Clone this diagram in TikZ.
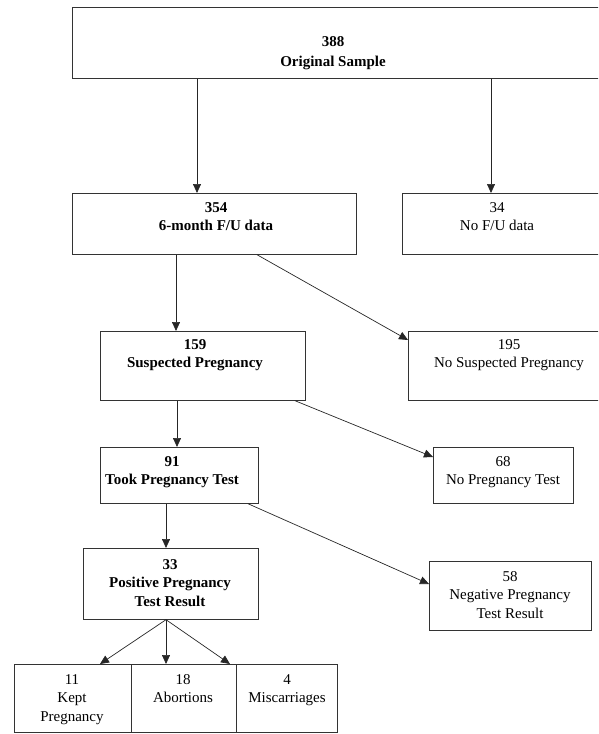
\documentclass[tikz,border=0pt]{standalone}
\usepackage{fontspec}
\setmainfont{Liberation Serif}
\usetikzlibrary{calc,arrows.meta}
\begin{document}
\begin{tikzpicture}[x=1pt,y=-1pt,
  box/.style={draw=black!80, line width=0.7pt, inner sep=0pt, anchor=north west},
  txt/.style={inner sep=0pt, anchor=north, align=center, font=\fontsize{15}{18.5}\selectfont},
  btxt/.style={txt, font=\fontsize{15}{18.5}\selectfont\bfseries},
  arr/.style={draw=black!85, line width=0.7pt, -{Triangle[length=9pt,width=8pt]}}]
\useasboundingbox (0,0) rectangle (598,734);
\clip (0,0) rectangle (598,734);
% boxes
\node[box, minimum width=538pt, minimum height=71pt] (T) at (72,7) {};
\node[box, minimum width=284pt, minimum height=61pt] (b354) at (72,193) {};
\node[box, minimum width=208pt, minimum height=61pt] (b34) at (402,193) {};
\node[box, minimum width=205pt, minimum height=69pt] (b159) at (100,331) {};
\node[box, minimum width=202pt, minimum height=69pt] (b195) at (408,331) {};
\node[box, minimum width=158pt, minimum height=56pt] (b91) at (100,447) {};
\node[box, minimum width=140pt, minimum height=56pt] (b68) at (433,447) {};
\node[box, minimum width=175pt, minimum height=71pt] (b33) at (83,548) {};
\node[box, minimum width=162pt, minimum height=69pt] (b58) at (429,561) {};
\node[box, minimum width=117pt, minimum height=68pt] (b11) at (14,664) {};
\node[box, minimum width=105pt, minimum height=68pt] (b18) at (131,664) {};
\node[box, minimum width=101pt, minimum height=68pt] (b4) at (236,664) {};
% texts
\node[btxt, font=\fontsize{15}{20.5}\selectfont\bfseries] (tT) at ($(T.north west)+(261,29)$) {388\\Original Sample};
\node[btxt] (t354) at ($(b354.north west)+(144,9)$) {354\\6-month F/U data};
\node[txt] (t34) at ($(b34.north west)+(95,9)$) {34\\No F/U data};
\node[btxt] (t159) at ($(b159.north west)+(95,8)$) {159\\Suspected Pregnancy};
\node[txt] (t195) at ($(b195.north west)+(101,8)$) {195\\No Suspected Pregnancy};
\node[btxt] (t91) at ($(b91.north west)+(72,9)$) {91\\Took Pregnancy Test};
\node[txt] (t68) at ($(b68.north west)+(70,9)$) {68\\No Pregnancy Test};
\node[btxt] (t33) at ($(b33.north west)+(87,11)$) {33\\Positive Pregnancy\\Test Result};
\node[txt] (t58) at ($(b58.north west)+(81,10)$) {58\\Negative Pregnancy\\Test Result};
\node[txt] (t11) at ($(b11.north west)+(58,10)$) {11\\Kept\\Pregnancy};
\node[txt] (t18) at ($(b18.north west)+(52,10)$) {18\\Abortions};
\node[txt] (t4) at ($(b4.north west)+(51,10)$) {4\\Miscarriages};
% connectors
\draw[arr] ($(T.south west)+(125,0)$) -- ($(b354.north west)+(125,0)$);
\draw[arr] ($(T.south west)+(419,0)$) -- ($(b34.north west)+(89,0)$);
\draw[arr] ($(b354.south west)+(104,0)$) -- ($(b159.north west)+(76,0)$);
\draw[arr] ($(b354.south west)+(185,0)$) -- ($(b195.north west)+(0,9)$);
\draw[arr] ($(b159.south west)+(77,0)$) -- ($(b91.north west)+(77,0)$);
\draw[arr] ($(b159.south west)+(195,0)$) -- ($(b68.north west)+(0,10)$);
\draw[arr] ($(b91.south west)+(66,0)$) -- ($(b33.north west)+(83,0)$);
\draw[arr] ($(b91.south west)+(148,0)$) -- ($(b58.north west)+(0,23)$);
\coordinate (fan) at ($(b33.south west)+(83,0)$);
\draw[arr] (fan) -- ($(b11.north west)+(86,0)$);
\draw[arr] (fan) -- ($(b18.north west)+(35,0)$);
\draw[arr] (fan) -- ($(b4.north west)+(-6,0)$);
\end{tikzpicture}
\end{document}
